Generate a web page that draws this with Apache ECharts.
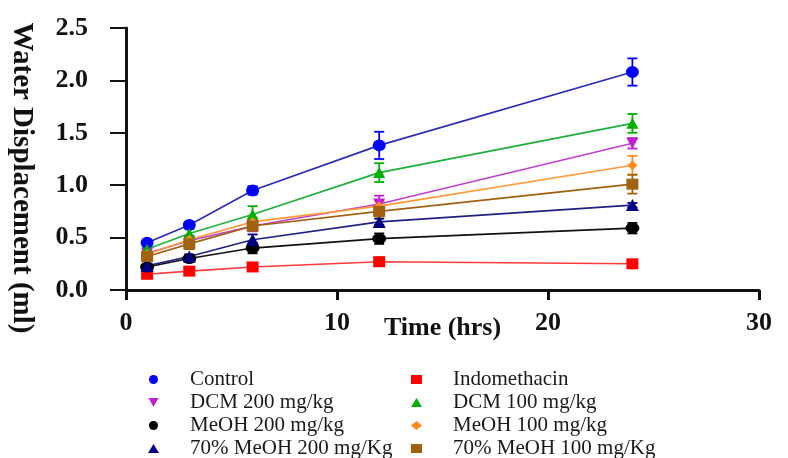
<!DOCTYPE html>
<html>
<head>
<meta charset="utf-8">
<script src="https://cdn.jsdelivr.net/npm/echarts@6/dist/echarts.min.js"></script>
<style>
	html, body { margin: 0; padding: 0; background: #fff; }
	#chart { width: 788px; height: 458px; }
</style>
</head>
<body>
<div id="chart"></div>
<script>
// 时间点 (hrs)
var hours = [1, 3, 6, 12, 24];
var yTicks = [0, 0.5, 1.0, 1.5, 2.0, 2.5];

// 各组平均值 与 误差
var controlVals = [0.45, 0.62, 0.95, 1.38, 2.08];
var controlErr = [0.02, 0.03, 0.04, 0.13, 0.13];
var indoVals = [0.15, 0.18, 0.22, 0.27, 0.25];
var indoErr = [0.02, 0.02, 0.03, 0.04, 0.03];
var dcm200Vals = [0.35, 0.47, 0.61, 0.82, 1.40];
var dcm200Err = [0.03, 0.04, 0.05, 0.08, 0.05];
var dcm100Vals = [0.39, 0.54, 0.72, 1.12, 1.59];
var dcm100Err = [0.02, 0.04, 0.08, 0.09, 0.09];
var meoh200Vals = [0.22, 0.30, 0.40, 0.49, 0.59];
var meoh200Err = [0.02, 0.03, 0.05, 0.05, 0.05];
var meoh100Vals = [0.34, 0.48, 0.65, 0.80, 1.19];
var meoh100Err = [0.02, 0.03, 0.04, 0.05, 0.09];
var aq200Vals = [0.23, 0.32, 0.48, 0.65, 0.81];
var aq200Err = [0.02, 0.02, 0.05, 0.03, 0.02];
var aq100Vals = [0.32, 0.44, 0.61, 0.75, 1.01];
var aq100Err = [0.04, 0.05, 0.04, 0.05, 0.09];

var serif = '"Liberation Serif", "Times New Roman", serif';
var triDown = 'path://M0,0L20,0L10,18Z';

// 组的设置: 名字, 数据, 颜色, 符号
var groups = [
	{ name: 'Control', vals: controlVals, err: controlErr, color: '#0000ff', line: '#2b2bb5', symbol: 'circle', size: [13, 12] },
	{ name: 'Indomethacin', vals: indoVals, err: indoErr, color: '#ff0000', line: '#ff3a3a', symbol: 'rect', size: [12, 11] },
	{ name: 'DCM 200 mg/kg', vals: dcm200Vals, err: dcm200Err, color: '#c020d0', line: '#c040d0', symbol: triDown, size: [12, 11] },
	{ name: 'DCM 100 mg/kg', vals: dcm100Vals, err: dcm100Err, color: '#00b000', line: '#1db13c', symbol: 'triangle', size: [12, 11] },
	{ name: 'MeOH 200 mg/kg', vals: meoh200Vals, err: meoh200Err, color: '#000000', line: '#111111', symbol: 'circle', size: [14, 11] },
	{ name: 'MeOH 100 mg/kg', vals: meoh100Vals, err: meoh100Err, color: '#ff8c1a', line: '#ff9a3a', symbol: 'diamond', size: [10, 10] },
	{ name: '70% MeOH 200 mg/Kg', vals: aq200Vals, err: aq200Err, color: '#000080', line: '#202080', symbol: 'triangle', size: [13, 12] },
	{ name: '70% MeOH 100 mg/Kg', vals: aq100Vals, err: aq100Err, color: '#a0620f', line: '#a0620f', symbol: 'rect', size: [12, 11] }
];

function errRenderer(color) {
	return function(params, api) {
		var x = api.value(0), y = api.value(1), e = api.value(2);
		var hi = api.coord([x, y + e]);
		var lo = api.coord([x, y - e]);
		var w = 5;
		var st = { stroke: color, lineWidth: 1.8 };
		return {
			type: 'group',
			children: [
				{ type: 'line', shape: { x1: hi[0], y1: hi[1], x2: lo[0], y2: lo[1] }, style: st },
				{ type: 'line', shape: { x1: hi[0] - w, y1: hi[1], x2: hi[0] + w, y2: hi[1] }, style: st },
				{ type: 'line', shape: { x1: lo[0] - w, y1: lo[1], x2: lo[0] + w, y2: lo[1] }, style: st }
			]
		};
	};
}

var series = [];
for (var i = 0; i < groups.length; i++) {
	var g = groups[i];
	var pts = [], errPts = [];
	for (var j = 0; j < hours.length; j++) {
		pts.push([hours[j], g.vals[j]]);
		errPts.push([hours[j], g.vals[j], g.err[j]]);
	}
	series.push({
		type: 'custom',
		name: g.name + ' err',
		renderItem: errRenderer(g.color),
		data: errPts,
		encode: { x: 0, y: 1 },
		z: 2,
		silent: true
	});
	series.push({
		type: 'line',
		name: g.name,
		data: pts,
		symbol: g.symbol,
		symbolSize: g.size,
		showAllSymbol: true,
		itemStyle: { color: g.color },
		lineStyle: { color: g.line, width: 1.6 },
		z: 3,
		animation: false
	});
}

function legendData(names) {
	var out = [];
	for (var k = 0; k < names.length; k++) {
		for (var m = 0; m < groups.length; m++) {
			if (groups[m].name == names[k]) {
				out.push({ name: names[k], icon: groups[m].symbol });
			}
		}
	}
	return out;
}

var legendStyle = {
	fontFamily: serif,
	fontSize: 21,
	color: '#1a1a1a',
	lineHeight: 21,
	padding: [0, 0, 0, 26]
};

var myChart = echarts.init(document.getElementById('chart'));
var option = {
	animation: false,
	backgroundColor: '#fff',
	grid: { left: 126, right: 29, top: 28, bottom: 168 },
	xAxis: {
		type: 'value',
		min: 0,
		max: 30,
		interval: 10,
		name: 'Time (hrs)',
		nameLocation: 'middle',
		nameGap: 25,
		nameMoveOverlap: false,
		nameTextStyle: { fontFamily: serif, fontWeight: 'bold', fontSize: 26, color: '#111' },
		axisLine: { lineStyle: { color: '#111', width: 3 } },
		axisTick: { length: 10, lineStyle: { width: 3, color: '#111' } },
		axisLabel: { margin: 20, fontFamily: serif, fontWeight: 'bold', fontSize: 26, color: '#111' },
		splitLine: { show: false }
	},
	yAxis: {
		type: 'value',
		min: 0,
		max: 2.5,
		interval: 0.5,
		axisLine: { show: true, lineStyle: { color: '#111', width: 3 } },
		axisTick: { show: true, length: 16, lineStyle: { width: 2, color: '#111' } },
		axisLabel: {
			margin: 38,
			fontFamily: serif,
			fontWeight: 'bold',
			fontSize: 26,
			color: '#111',
			formatter: function(v) { return v.toFixed(1); }
		},
		splitLine: { show: false }
	},
	legend: [{
		orient: 'vertical',
		left: 148,
		top: 369,
		height: 100,
		padding: 0,
		itemWidth: 11,
		itemHeight: 9,
		itemGap: 2,
		textStyle: legendStyle,
		data: legendData(['Control', 'DCM 200 mg/kg', 'MeOH 200 mg/kg', '70% MeOH 200 mg/Kg'])
	}, {
		orient: 'vertical',
		left: 411,
		top: 369,
		height: 100,
		padding: 0,
		itemWidth: 11,
		itemHeight: 9,
		itemGap: 2,
		textStyle: legendStyle,
		data: legendData(['Indomethacin', 'DCM 100 mg/kg', 'MeOH 100 mg/kg', '70% MeOH 100 mg/Kg'])
	}],
	graphic: [{
		type: 'text',
		x: 21,
		y: 178,
		rotation: -Math.PI / 2,
		style: {
			text: 'Water Displacement (ml)',
			font: 'bold 29px ' + serif,
			fill: '#111',
			textAlign: 'center',
			textVerticalAlign: 'middle',
			align: 'center',
			verticalAlign: 'middle'
		}
	}],
	series: series
};
myChart.setOption(option);
</script>
</body>
</html>
